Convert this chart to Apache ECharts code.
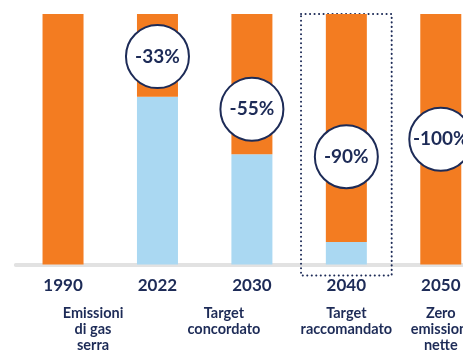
<!DOCTYPE html>
<html>
<head>
<meta charset="utf-8">
<script src="https://cdn.jsdelivr.net/npm/echarts@6/dist/echarts.min.js"></script>
<style>
  html, body { margin: 0; padding: 0; background: #fff; overflow: hidden; }
  /* the original crops the last bar: draw wider than the window */
  #chart { width: 488px; height: 353px; }
</style>
</head>
<body>
<div id="chart"></div>
<script>
// data
const years = ["1990", "2022", "2030", "2040", "2050"];
const subtitles = ["Emissioni\ndi gas\nserra", "", "Target\nconcordato", "Target\nraccomandato", "Zero\nemissioni\nnette"];
const remaining = [0, 67, 44, 9, 0];         // light blue part (% of 1990)
const reduced = [100, 33, 56, 91, 100];      // orange part
const badgeText = ["", "-33%", "-55%", "-90%", "-100%"];
const badgeLevel = [null, 83, 62, 43, 50];   // where the circle sits on the scale
const highlighted = ["2040"];

const NAVY = "#1d2b57";
const ORANGE = "#f37c21";
const BLUE = "#aad8f2";
const FONT = "Lato";

// subtitles under 1990 and 2030 are nudged sideways in the original
const subPad = [[0, 0, 0, 60], [0, 0, 0, 0], [0, 56, 0, 0], [0, 0, 0, 0], [0, 0, 0, 0]];

const chart = echarts.init(document.getElementById("chart"));

const badges = [];
years.forEach((y, i) => {
  if (badgeLevel[i] != null) badges.push({ value: [y, badgeLevel[i]], name: badgeText[i] });
});

const rich = { year: { fontSize: 17, fontWeight: "bold", color: NAVY, lineHeight: 40, fontFamily: FONT } };
subPad.forEach((p, i) => {
  rich["sub" + i] = { fontSize: 14.5, fontWeight: "bold", color: NAVY, lineHeight: 16, fontFamily: FONT, padding: p };
});

chart.setOption({
  animation: false,
  grid: { left: 13, right: 0, top: 14, bottom: 87 },
  xAxis: {
    type: "category",
    data: years,
    axisTick: { show: false },
    axisLine: { lineStyle: { color: "#e2e2e2", width: 4, cap: "round" } },
    axisLabel: {
      interval: 0,
      margin: 1,
      formatter: (val, idx) => {
        let s = "{year|" + val + "}";
        const lines = subtitles[idx] ? subtitles[idx].split("\n") : [];
        lines.forEach(l => { s += "\n{sub" + idx + "|" + l + "}"; });
        return s;
      },
      rich: rich
    }
  },
  yAxis: { type: "value", min: 0, max: 100, show: false, splitLine: { show: false } },
  series: [
    {
      type: "bar",
      stack: "tot",
      barWidth: 41,
      data: remaining,
      itemStyle: { color: BLUE }
    },
    {
      type: "bar",
      stack: "tot",
      barWidth: 41,
      data: reduced,
      itemStyle: { color: ORANGE }
    },
    {
      type: "custom",
      clip: false,
      z: 1,
      data: highlighted.map(y => [y]),
      renderItem: (params, api) => {
        const top = api.coord([api.value(0), 100]);
        const bot = api.coord([api.value(0), 0]);
        const w = api.size([1, 0])[0] * 0.96;
        return {
          type: "rect",
          shape: { x: top[0] - w / 2, y: top[1], width: w, height: bot[1] - top[1] + 11 },
          style: { fill: "none", stroke: NAVY, lineWidth: 2, lineDash: [0.1, 4.4], lineCap: "round" }
        };
      }
    },
    {
      type: "scatter",
      z: 5,
      symbol: "circle",
      symbolSize: 63,
      data: badges,
      itemStyle: { color: "#fff", borderColor: NAVY, borderWidth: 2, opacity: 1 },
      label: {
        show: true,
        position: "inside",
        formatter: p => p.name,
        color: NAVY,
        fontSize: 19,
        fontWeight: "bold",
        fontFamily: FONT
      },
      emphasis: { disabled: true }
    }
  ]
});
</script>
</body>
</html>
